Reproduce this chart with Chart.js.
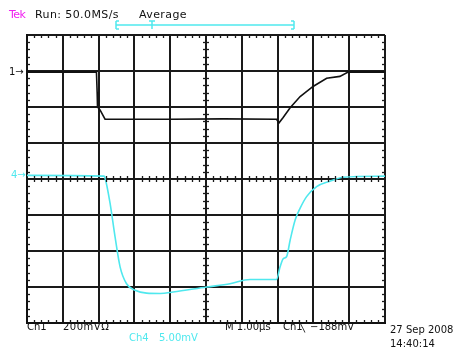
<!DOCTYPE html>
<html><head><meta charset="utf-8">
<script src="https://cdn.jsdelivr.net/npm/chart.js@4"></script>
<style>
html,body{margin:0;padding:0;background:#fff;}
#wrap{position:relative;width:460px;height:349px;overflow:hidden;}
canvas{position:absolute;left:0;top:0;}
.t{position:absolute;font-family:"DejaVu Sans";font-size:10px;line-height:10px;white-space:pre;color:#111;}
.big{font-size:11px;line-height:11px;letter-spacing:0.4px;}
.c{color:#4fe8ee;}
</style></head><body>
<div id="wrap"><canvas id="c" width="460" height="349"></canvas>
<span class="t big" style="left:9px;top:9px;color:#f020f0;letter-spacing:-0.5px">Tek</span>
<span class="t big" style="left:35px;top:9px">Run: 50.0MS/s</span>
<span class="t big" style="left:139px;top:9px">Average</span>
<span class="t" style="left:9px;top:67px">1→</span>
<span class="t c" style="left:11px;top:170px">4→</span>
<span class="t" style="left:27px;top:322px">Ch1</span>
<span class="t" style="left:63px;top:322px;letter-spacing:0.5px">200mVΩ</span>
<span class="t c" style="left:129px;top:333px">Ch4</span>
<span class="t c" style="left:159px;top:333px">5.00mV</span>
<span class="t" style="left:225px;top:322px">M 1.00µs</span>
<span class="t" style="left:283px;top:322px">Ch1</span>
<span class="t" style="left:299px;top:322px">╲</span>
<span class="t" style="left:310px;top:322px">−188mV</span>
<span class="t" style="left:390px;top:325px">27 Sep 2008</span>
<span class="t" style="left:390px;top:339px">14:40:14</span>
</div>
<script>
// Time axis in µs (M 1.00µs/div), vertical in screen divisions
const xTicks = [-5,-4,-3,-2,-1,0,1,2,3,4,5];
const yTicks = [-4,-3,-2,-1,0,1,2,3,4];
// Ch1 (200mV/div) trace, in divisions
const ch1Time = [-5, -3.06, -3.04, -3.03, -2.96, -2.82, -1.0, 0.5, 1.97, 2.04, 2.15, 2.35, 2.63, 2.99, 3.37, 3.74, 3.97, 5];
const ch1Div  = [2.97, 2.97, 2.40, 2.00, 1.92, 1.66, 1.66, 1.67, 1.66, 1.56, 1.70, 1.98, 2.29, 2.57, 2.80, 2.85, 2.97, 2.97];
// Ch4 (5.00mV/div) trace, in divisions
const ch4Time = [-5, -2.85, -2.82, -2.68, -2.54, -2.40, -2.22, -1.98, -1.66, -1.28, -0.92, 0.02, 0.67, 1.23, 1.97, 2.07, 2.16, 2.25, 2.35, 2.49, 2.63, 2.81, 3.09, 3.46, 3.84, 5];
const ch4Div  = [0.10, 0.08, 0.03, -0.67, -1.61, -2.44, -2.91, -3.09, -3.17, -3.18, -3.14, -3.00, -2.91, -2.79, -2.79, -2.44, -2.21, -2.16, -1.70, -1.14, -0.81, -0.49, -0.21, -0.06, 0.05, 0.08];

const toPts = (xs, ys) => xs.map((v, i) => ({x: v, y: ys[i]}));

const scopeDecor = {
  id: 'scopeDecor',
  afterDraw(chart) {
    const {ctx, chartArea: a, scales: {x, y}} = chart;
    ctx.save();
    ctx.strokeStyle = '#1a1a1a';
    ctx.lineWidth = 1.3;
    const line = (x1, y1, x2, y2) => { ctx.beginPath(); ctx.moveTo(x1, y1); ctx.lineTo(x2, y2); ctx.stroke(); };
    const x0 = x.getPixelForValue(0), y0 = y.getPixelForValue(0);
    for (let i = -25; i <= 25; i++) {
      if (i % 5 === 0) continue;
      const px = Math.round(x.getPixelForValue(i / 5)) + 0.5;
      line(px, y0 - 3, px, y0 + 3);
      line(px, a.top, px, a.top + 3);
      line(px, a.bottom - 3, px, a.bottom);
    }
    for (let j = -20; j <= 20; j++) {
      if (j % 5 === 0) continue;
      const py = Math.round(y.getPixelForValue(j / 5)) + 0.5;
      line(x0 - 3, py, x0 + 3, py);
      line(a.left, py, a.left + 3, py);
      line(a.right - 3, py, a.right, py);
    }
    // record bracket at top
    ctx.strokeStyle = '#4fe8ee';
    ctx.lineWidth = 1.5;
    line(116, 25, 294, 25);
    line(116, 21, 116, 29); line(116, 21, 119, 21); line(116, 29, 119, 29);
    line(294, 21, 294, 29); line(294, 21, 291, 21); line(294, 29, 291, 29);
    line(152, 21, 152, 29); line(149, 21, 155, 21);
    ctx.restore();
  }
};

new Chart(document.getElementById('c'), {
  type: 'line',
  data: {
    datasets: [
      {data: toPts(ch4Time, ch4Div), borderColor: '#4fe8ee', borderWidth: 1.6, pointRadius: 0, cubicInterpolationMode: 'monotone'},
      {data: toPts(ch1Time, ch1Div), borderColor: '#111', borderWidth: 1.6, pointRadius: 0, tension: 0}
    ]
  },
  options: {
    responsive: false,
    animation: false,
    layout: {padding: {left: 27, right: 75, top: 35, bottom: 26}},
    plugins: {legend: {display: false}, tooltip: {enabled: false}},
    scales: {
      x: {type: 'linear', min: -5, max: 5,
          afterBuildTicks: s => { s.ticks = xTicks.map(v => ({value: v})); },
          ticks: {display: false},
          grid: {color: '#1a1a1a', lineWidth: 2, drawTicks: false},
          border: {color: '#111', width: 2}},
      y: {type: 'linear', min: -4, max: 4,
          afterBuildTicks: s => { s.ticks = yTicks.map(v => ({value: v})); },
          ticks: {display: false},
          grid: {color: '#1a1a1a', lineWidth: 2, drawTicks: false},
          border: {color: '#111', width: 2}}
    }
  },
  plugins: [scopeDecor]
});
</script>
</body></html>
